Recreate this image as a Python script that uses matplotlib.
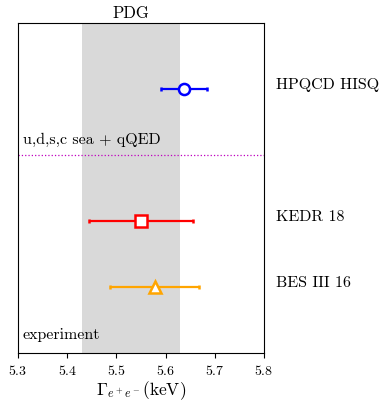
import matplotlib
matplotlib.use('Agg')
import matplotlib.pyplot as plt

plt.rcParams['font.family'] = ['cmr10', 'DejaVu Serif']
plt.rcParams['mathtext.fontset'] = 'cm'
plt.rcParams['axes.formatter.use_mathtext'] = True

# data
labels = ['HPQCD HISQ', 'KEDR 18', 'BES III 16']
values = [5.637, 5.550, 5.578]
errors = [0.047, 0.105, 0.090]
ypos = [4, 2, 1]
colors = ['blue', 'red', 'orange']
markers = ['o', 's', '^']
pdg_lo, pdg_hi = 5.43, 5.63
sep_y = 3

fig = plt.figure(figsize=(3.9, 4.1), dpi=100)
ax = fig.add_axes([18/390, 1 - 354/410, 246/390, 330/410])

ax.axvspan(pdg_lo, pdg_hi, color='#d9d9d9', lw=0, zorder=0)
ax.text((pdg_lo + pdg_hi) / 2, 5.05, 'PDG', ha='center', va='bottom', fontsize=12)

for lab, v, e, y, c, m in zip(labels, values, errors, ypos, colors, markers):
    ax.errorbar(v, y, xerr=e, fmt=m, color=c, mfc='white', mec=c, mew=1.8,
                ms=8, elinewidth=1.6, capsize=1.5, capthick=1.6, zorder=3)
    ax.text(5.824, y + 0.08, lab, ha='left', va='center', fontsize=11.5, clip_on=False)

ax.axhline(sep_y, color='m', ls=':', lw=0.9)
ax.text(5.311, 3.24, 'u,d,s,c sea + qQED', ha='left', va='center', fontsize=11.5)
ax.text(5.309, 0.29, 'experiment', ha='left', va='center', fontsize=11.5)

ax.set_xlim(5.3, 5.8)
ax.set_ylim(0, 5)
ax.set_yticks([])
ax.set_xticks([5.3, 5.4, 5.5, 5.6, 5.7, 5.8])
ax.tick_params(axis='x', labelsize=10, length=3.5)
ax.set_xlabel(r'$\Gamma_{e^+e^-}$(keV)', fontsize=12.5, labelpad=1)

plt.savefig('out.png', dpi=100)
